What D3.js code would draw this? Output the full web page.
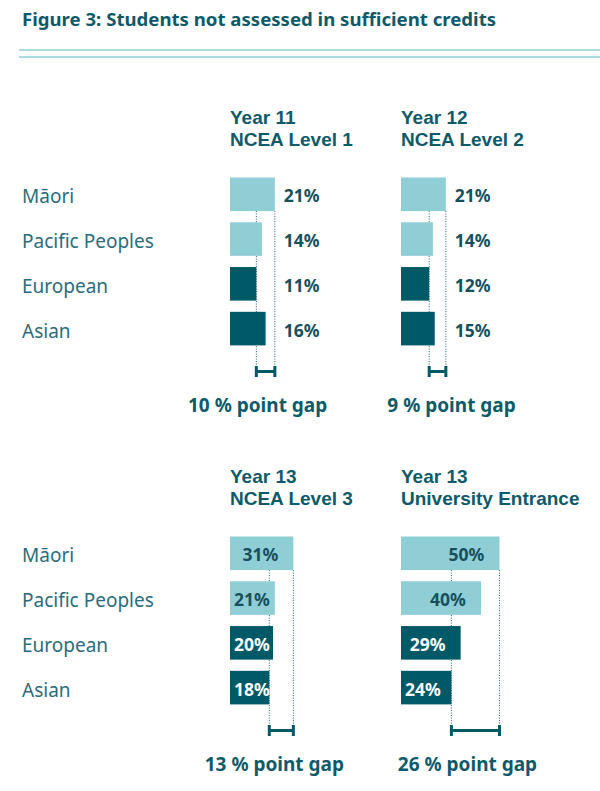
<!DOCTYPE html>
<html>
<head>
<meta charset="utf-8">
<script src="https://cdn.jsdelivr.net/npm/d3@7"></script>
<style>
    body { margin: 0; background: #fff; }
    text { font-family: "Noto Sans", sans-serif; }
    text.heading { font-family: "Liberation Sans", Arial, sans-serif; }
</style>
</head>
<body>
<div id="chart"></div>
<script>
const categories = ["Māori", "Pacific Peoples", "European", "Asian"];
const panelYears = ["Year 11", "Year 12", "Year 13", "Year 13"];
const panelQuals = ["NCEA Level 1", "NCEA Level 2", "NCEA Level 3", "University Entrance"];
const level1Values = [21, 14, 11, 16];
const level2Values = [21, 14, 12, 15];
const level3Values = [31, 21, 20, 18];
const ueValues = [50, 40, 29, 24];
const gapLabels = ["10 % point gap", "9 % point gap", "13 % point gap", "26 % point gap"];

const panelValues = [level1Values, level2Values, level3Values, ueValues];

const width = 600;
const height = 791;
const colX = [230, 401];
const rowShift = [0, 359];
const gapDx = [-8, 14, -7, -8];
const labelInside = [false, false, true, true];

const lightBar = "#90ced6";
const darkBar = "#005967";
const titleColor = "#0e5a69";
const labelColor = "#2b6c7c";
const valueColor = "#17505d";

const svg = d3.select("#chart")
    .append("svg")
    .attr("width", width)
    .attr("height", height);

svg.append("text")
    .attr("x", 22)
    .attr("y", 26)
    .attr("fill", titleColor)
    .attr("font-size", 18.6)
    .attr("font-weight", 700)
    .text("Figure 3: Students not assessed in sufficient credits");

[50, 57].forEach(y => {
    svg.append("line")
        .attr("x1", 19).attr("x2", width)
        .attr("y1", y).attr("y2", y)
        .attr("stroke", "#8fd0d8")
        .attr("stroke-width", 1.6);
});

const xScale = d3.scaleLinear()
    .domain([0, 50])
    .range([6, 98.5]);

const yScale = d3.scaleBand()
    .domain(categories)
    .range([177.5, 345.4])
    .paddingInner(0.25)
    .paddingOuter(0);

const barColor = i => i < 2 ? lightBar : darkBar;

// category labels, one set per row
rowShift.forEach(dy => {
    svg.append("g")
        .attr("transform", "translate(0," + dy + ")")
        .selectAll("text")
        .data(categories)
        .enter()
        .append("text")
        .attr("x", 22)
        .attr("y", d => yScale(d) + yScale.bandwidth() / 2 + 2)
        .attr("dominant-baseline", "central")
        .attr("font-size", 19)
        .attr("fill", labelColor)
        .text(d => d);
});

panelValues.forEach((values, p) => {
    const x0 = colX[p % 2];
    const dy = rowShift[Math.floor(p / 2)];
    const rows = categories.map((c, i) => ({ cat: c, value: values[i], i: i }));
    const maxEnd = xScale(d3.max(values));
    const minEnd = xScale(d3.min(values));
    const lineTop = yScale(categories[0]) + yScale.bandwidth();
    const bracketY = 371.5;

    const g = svg.append("g")
        .attr("transform", "translate(" + x0 + "," + dy + ")");

    [panelYears[p], panelQuals[p]].forEach((line, k) => {
        g.append("text")
            .attr("class", "heading")
            .attr("x", 0)
            .attr("y", 123.5 + k * 22.5)
            .attr("fill", titleColor)
            .attr("font-size", 19)
            .attr("font-weight", 700)
            .text(line);
    });

    // dotted guides at min and max
    [minEnd, maxEnd].forEach(x => {
        g.append("line")
            .attr("x1", x).attr("x2", x)
            .attr("y1", lineTop).attr("y2", bracketY - 5)
            .attr("stroke", "#1d6473")
            .attr("stroke-width", 1)
            .attr("stroke-dasharray", "1,1.5");
    });

    g.selectAll("rect.bar")
        .data(rows)
        .enter()
        .append("rect")
        .attr("class", "bar")
        .attr("x", 0)
        .attr("y", d => yScale(d.cat))
        .attr("width", d => xScale(d.value))
        .attr("height", yScale.bandwidth())
        .attr("fill", d => barColor(d.i));

    g.selectAll("text.value")
        .data(rows)
        .enter()
        .append("text")
        .attr("class", "value")
        .attr("x", d => labelInside[p]
            ? Math.max(22, xScale(d.value) - 33)
            : maxEnd + 9)
        .attr("y", d => yScale(d.cat) + yScale.bandwidth() / 2 + 1)
        .attr("dominant-baseline", "central")
        .attr("text-anchor", labelInside[p] ? "middle" : "start")
        .attr("font-size", 17.5)
        .attr("font-weight", 700)
        .attr("fill", d => labelInside[p] && d.i >= 2 ? "#ffffff" : valueColor)
        .text(d => d.value + "%");

    // gap bracket
    g.append("line")
        .attr("x1", minEnd).attr("x2", maxEnd)
        .attr("y1", bracketY).attr("y2", bracketY)
        .attr("stroke", darkBar)
        .attr("stroke-width", 3);
    [minEnd, maxEnd].forEach(x => {
        g.append("line")
            .attr("x1", x).attr("x2", x)
            .attr("y1", bracketY - 5.5).attr("y2", bracketY + 5.5)
            .attr("stroke", darkBar)
            .attr("stroke-width", 3);
    });

    g.append("text")
        .attr("x", (minEnd + maxEnd) / 2 + gapDx[p])
        .attr("y", 405)
        .attr("dominant-baseline", "central")
        .attr("text-anchor", "middle")
        .attr("font-size", 19)
        .attr("font-weight", 700)
        .attr("fill", titleColor)
        .text(gapLabels[p]);
});
</script>
</body>
</html>
